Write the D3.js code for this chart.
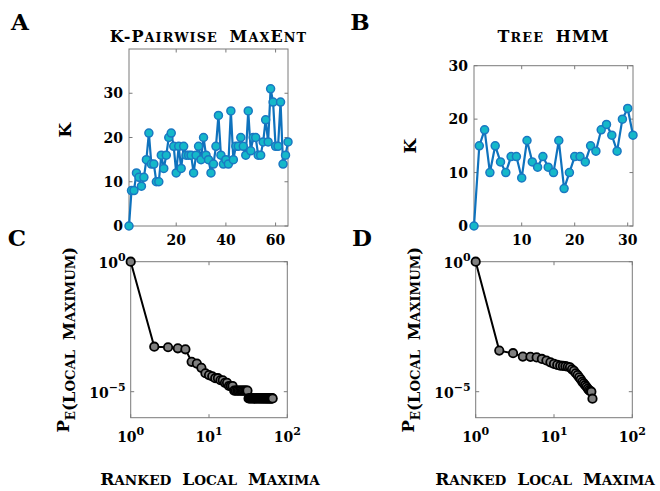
<!DOCTYPE html>
<html><head><meta charset="utf-8">
<script src="https://cdn.jsdelivr.net/npm/d3@7"></script>
<style>
html,body{margin:0;padding:0;background:#fff;}
svg text{font-family:"DejaVu Serif",serif;font-weight:bold;fill:#000;}
</style></head>
<body><svg id="c" width="660" height="491"></svg>
<script>
// ---- data ----
const kPairwiseK = [0,8,8,12,11,9,11,15,21,14,14,10,10,16,13,16,20,21,18,12,18,13,18,16,16,16,12,16,18,15,20,16,15,12,14,18,25,16,14,15,14,26,15,18,18,20,18,16,26,17,20,20,16,16,19,24,19,31,28,18,18,28,14,16,19];
const treeHmmK = [0,15,18,10,15,12,10,13,13,9,16,12,11,13,11,10,16,7,10,13,13,12,15,14,18,19,17,14,20,22,17];
// log10 of empirical probability of ranked local maxima
const kPairwiseLogP = [0,-3.27,-3.29,-3.33,-3.37,-3.85,-3.92,-4.08,-4.29,-4.36,-4.41,-4.48,-4.48,-4.56,-4.56,-4.66,-4.66,-4.78,-4.78,-4.78,
  -4.96,-4.96,-4.96,-4.96,-4.96,-4.96,-4.96,-4.96,-4.96,-4.96,-4.96,
  -5.26,-5.26,-5.26,-5.26,-5.26,-5.26,-5.26,-5.26,-5.26,-5.26,-5.26,-5.26,-5.26,-5.26,-5.26,-5.26,-5.26,
  -5.26,-5.26,-5.26,-5.26,-5.26,-5.26,-5.26,-5.26,-5.26,-5.26,-5.26,-5.26,-5.26,-5.26,-5.26,-5.26,-5.26];
const treeHmmLogP = [0,-3.42,-3.52,-3.65,-3.66,-3.68,-3.74,-3.80,-3.87,-3.93,-3.97,-4.00,-4.01,-4.02,-4.04,-4.06,-4.14,-4.20,-4.29,-4.36,-4.45,-4.53,-4.62,-4.68,-4.75,-4.81,-4.88,-4.94,-4.98,-5.00,-5.27];
const titles = ["K-Pairwise MaxEnt", "Tree HMM"];
const panelLetters = ["A","B","C","D"];
const xTicksA = [20,40,60], xTicksB = [10,20,30], yTicksK = [0,10,20,30];
const logXTickExp = [0,1,2], logYTickExp = [0,-5];
const yLabelTop = "K", xLabelBottom = "Ranked Local Maxima", yLabelBottom = "(Local Maximum)";

const svg = d3.select("#c");
const axisColor = "#7a7a7a";
const tickLen = 3.5;

// draw text in (fake) small caps: capitals at full size, lower case as smaller capitals
function smallCaps(textSel, str, size){
  const ratio = 0.8;
  for (const ch of str){
    const isLower = ch !== ch.toUpperCase();
    textSel.append("tspan").attr("font-size", isLower ? size*ratio : size).text(ch.toUpperCase());
  }
}
function box(g, x0, x1, y0, y1){
  g.append("rect").attr("x",x0).attr("y",y0).attr("width",x1-x0).attr("height",y1-y0)
   .attr("fill","none").attr("stroke",axisColor).attr("stroke-width",1);
}
function linPanel(vals, L, R, T, B, yMax, xt, title, kY){
  const g = svg.append("g");
  const n = vals.length;
  const x = d3.scaleLinear().domain([1,n]).range([L,R]);
  const y = d3.scaleLinear().domain([0,yMax]).range([B,T]);
  box(g,L,R,T,B);
  xt.forEach(t=>{
    g.append("line").attr("x1",x(t)).attr("x2",x(t)).attr("y1",B).attr("y2",B-tickLen).attr("stroke",axisColor);
    g.append("line").attr("x1",x(t)).attr("x2",x(t)).attr("y1",T).attr("y2",T+tickLen).attr("stroke",axisColor);
    g.append("text").attr("x",x(t)).attr("y",B+19).attr("text-anchor","middle").attr("font-size",14).text(t);
  });
  yTicksK.forEach(t=>{
    g.append("line").attr("x1",L).attr("x2",L+tickLen).attr("y1",y(t)).attr("y2",y(t)).attr("stroke",axisColor);
    g.append("line").attr("x1",R).attr("x2",R-tickLen).attr("y1",y(t)).attr("y2",y(t)).attr("stroke",axisColor);
    g.append("text").attr("x",L-6).attr("y",y(t)+5).attr("text-anchor","end").attr("font-size",14).text(t);
  });
  const line = d3.line().x((d,i)=>x(i+1)).y(d=>y(d));
  g.append("path").datum(vals).attr("d",line).attr("fill","none").attr("stroke","#0f72bd").attr("stroke-width",2.2);
  g.selectAll("circle").data(vals).join("circle").attr("cx",(d,i)=>x(i+1)).attr("cy",d=>y(d)).attr("r",4)
   .attr("fill","#15b8c9").attr("stroke","#1a78c2").attr("stroke-width",1.5);
  const tt = g.append("text").attr("x",(L+R)/2).attr("y",41.5).attr("text-anchor","middle").attr("letter-spacing",1.1).attr("word-spacing",5);
  smallCaps(tt, title, 16);
  g.append("text").attr("transform",`translate(${L-58},${kY}) rotate(-90)`).attr("text-anchor","middle")
   .attr("font-size",17).text(yLabelTop);
}
function logPanel(logs, L, R, T, B, xlCenter){
  const g = svg.append("g");
  const vals = logs.map(v=>Math.pow(10,v));
  const x = d3.scaleLog().domain([1,100]).range([L,R]);
  const y = d3.scaleLog().domain([1e-6,1]).range([B,T]);
  box(g,L,R,T,B);
  logXTickExp.forEach(e=>{
    const px = x(Math.pow(10,e));
    g.append("line").attr("x1",px).attr("x2",px).attr("y1",B).attr("y2",B-tickLen).attr("stroke",axisColor);
    g.append("line").attr("x1",px).attr("x2",px).attr("y1",T).attr("y2",T+tickLen).attr("stroke",axisColor);
    const t = g.append("text").attr("x",px).attr("y",B+24).attr("text-anchor","middle").attr("font-size",14);
    t.append("tspan").text("10");
    t.append("tspan").attr("dy",-7).attr("font-size",11).text(e);
  });
  logYTickExp.forEach(e=>{
    const py = y(Math.pow(10,e));
    g.append("line").attr("x1",L).attr("x2",L+tickLen).attr("y1",py).attr("y2",py).attr("stroke",axisColor);
    g.append("line").attr("x1",R).attr("x2",R-tickLen).attr("y1",py).attr("y2",py).attr("stroke",axisColor);
    const t = g.append("text").attr("x",L-5).attr("y",py+6).attr("text-anchor","end").attr("font-size",14);
    t.append("tspan").text("10");
    t.append("tspan").attr("dy",-7).attr("font-size",11).text(e===0?"0":"\u22125");
  });
  const line = d3.line().x((d,i)=>x(i+1)).y(d=>y(d));
  g.append("path").datum(vals).attr("d",line).attr("fill","none").attr("stroke","#000").attr("stroke-width",2);
  g.selectAll("circle").data(vals).join("circle").attr("cx",(d,i)=>x(i+1)).attr("cy",d=>y(d)).attr("r",4.2)
   .attr("fill","#808080").attr("stroke","#000").attr("stroke-width",1.8);
  const xl = g.append("text").attr("x",xlCenter).attr("y",485).attr("text-anchor","middle").attr("word-spacing",5);
  smallCaps(xl, xLabelBottom, 17);
  const yl = g.append("text").attr("transform",`translate(${L-62},${(T+B)/2}) rotate(-90)`).attr("text-anchor","middle")
   .attr("word-spacing",4);
  yl.append("tspan").attr("font-size",16.5).text("P");
  yl.append("tspan").attr("dy",6).attr("font-size",12).text("E");
  yl.append("tspan").attr("dy",-6).attr("font-size",16.5).text("");
  smallCaps(yl, yLabelBottom, 16.5);
}
linPanel(kPairwiseK, 129, 288, 49, 226, 40, xTicksA, titles[0], 130);
linPanel(treeHmmK, 474, 633, 65.7, 226, 30, xTicksB, titles[1], 146);
logPanel(kPairwiseLogP, 130.7, 287.3, 261.7, 417.7, 210);
logPanel(treeHmmLogP, 475.7, 632.3, 261.7, 417.7, 545);
const letterPos = [[20,30],[360,30],[17,246],[362,246]];
panelLetters.forEach((l,i)=>{
  svg.append("text").attr("x",letterPos[i][0]).attr("y",letterPos[i][1]).attr("text-anchor","middle").attr("font-size",23).text(l);
});
</script></body></html>
